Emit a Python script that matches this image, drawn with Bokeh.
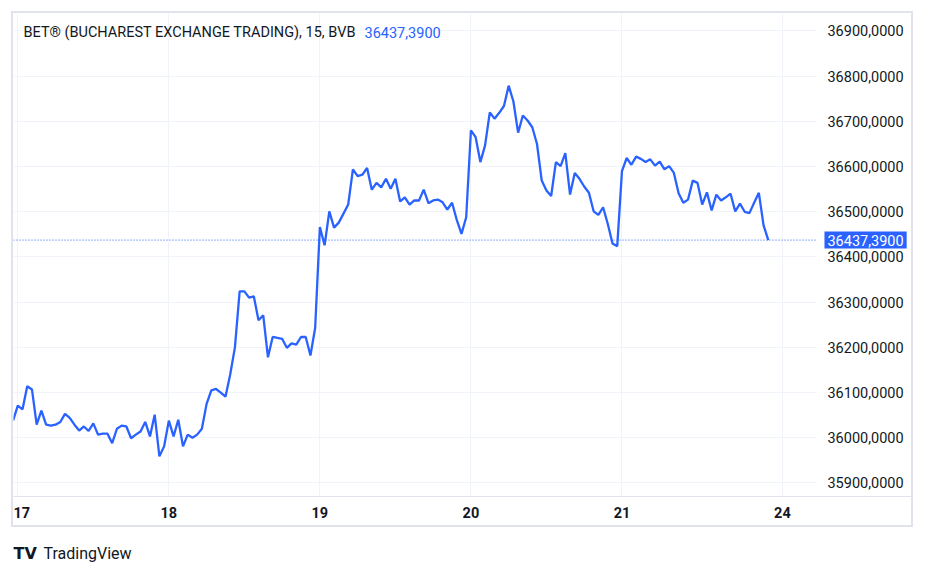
from bokeh.plotting import figure
from bokeh.models import Range1d, FixedTicker, Span, Label, BoxAnnotation
from bokeh.layouts import column
from bokeh.embed import file_html
from bokeh.resources import INLINE
from bokeh.core.properties import value

# ---------------- data ----------------
symbol_title = "BET® (BUCHAREST EXCHANGE TRADING), 15, BVB"
last_price = 36437.39
last_price_label = "36437,3900"

prev_day_last_bar = [36038]
day17 = [36071, 36063, 36114, 36107, 36029, 36060, 36029, 36027, 36029, 36035,
         36053, 36044, 36029, 36016, 36025, 36015, 36032, 36007, 36009, 36009,
         35988, 36020, 36027, 36025, 35999, 36007, 36014, 36035, 36003, 36051,
         35959, 35981]
day18 = [36038, 36003, 36040, 35981, 36007, 36000, 36007, 36020, 36075, 36105,
         36108, 36100, 36091, 36140, 36200, 36324, 36324, 36310, 36313, 36260,
         36271, 36178, 36223, 36221, 36219, 36199, 36209, 36206, 36223, 36223,
         36182, 36243]
day19 = [36466, 36426, 36501, 36465, 36476, 36496, 36516, 36594, 36579, 36582,
         36597, 36549, 36564, 36554, 36573, 36551, 36573, 36523, 36532, 36516,
         36525, 36525, 36549, 36519, 36525, 36527, 36521, 36505, 36520, 36482,
         36451, 36488]
day20 = [36680, 36665, 36610, 36647, 36720, 36706, 36719, 36734, 36779, 36744,
         36675, 36713, 36702, 36687, 36650, 36569, 36547, 36535, 36610, 36601,
         36630, 36538, 36586, 36573, 36556, 36542, 36501, 36493, 36510, 36473,
         36430, 36424]
day21 = [36590, 36619, 36604, 36622, 36617, 36610, 36616, 36602, 36611, 36594,
         36601, 36586, 36541, 36520, 36527, 36569, 36564, 36516, 36543, 36503,
         36538, 36525, 36532, 36540, 36501, 36518, 36500, 36497, 36520, 36542,
         36470, 36437.39]

day_labels = ["17", "18", "19", "20", "21", "24"]
day_tick_bars = [0, 32, 64, 96, 128, 162]

price_ticks = [35900, 36000, 36100, 36200, 36300, 36400, 36500, 36600, 36700, 36800, 36900]
price_tick_labels = ["35900,0000", "36000,0000", "36100,0000", "36200,0000", "36300,0000",
                     "36400,0000", "36500,0000", "36600,0000", "36700,0000", "36800,0000",
                     "36900,0000"]

closes = prev_day_last_bar + day17 + day18 + day19 + day20 + day21
bars = list(range(-1, len(closes) - 1))

# ---------------- styling ----------------
BLUE = "#2962FF"
TEXT = "#131722"
GRID = "#f0f3fa"
BORDER = "#e0e3eb"
FONT = "Roboto"
FS = "14.5px"

X_START, X_END = -0.91, 190.19      # frame spans the whole bordered box
PRICE_SCALE_X = 169.21              # where the price scale begins (bar units)

p = figure(width=902, height=516, output_backend="svg", toolbar_location=None,
           x_range=Range1d(X_START, X_END), y_range=Range1d(35870.1, 36938.7),
           y_axis_location="right",
           min_border_left=0, min_border_top=0, min_border_right=0, min_border_bottom=33)
p.margin = (11, 0, 0, 11)
p.styles = {"border": "2px solid " + BORDER}
p.outline_line_color = None
p.background_fill_color = "white"
p.border_fill_color = "white"

p.xaxis.ticker = FixedTicker(ticks=day_tick_bars)
p.xaxis.major_label_overrides = {t: l for t, l in zip(day_tick_bars, day_labels)}
p.xaxis.axis_line_color = BORDER
p.xaxis.axis_line_width = 1
p.xaxis.major_tick_line_color = None
p.xaxis.minor_tick_line_color = None
p.xaxis.major_tick_out = 0
p.xaxis.major_tick_in = 0
p.xaxis.minor_tick_out = 0
p.xaxis.major_label_standoff = 10
p.xaxis.major_label_text_font = FONT
p.xaxis.major_label_text_font_size = FS
p.xaxis.major_label_text_font_style = "bold"
p.xaxis.major_label_text_color = TEXT

# price scale drawn at a fixed position inside the frame
p.yaxis.fixed_location = PRICE_SCALE_X
p.yaxis.ticker = FixedTicker(ticks=price_ticks)
p.yaxis.major_label_overrides = {t: l for t, l in zip(price_ticks, price_tick_labels)}
p.yaxis.axis_line_color = None
p.yaxis.major_tick_line_color = None
p.yaxis.minor_tick_line_color = None
p.yaxis.major_tick_out = 0
p.yaxis.major_tick_in = 0
p.yaxis.minor_tick_out = 0
p.yaxis.major_label_standoff = 11
p.yaxis.major_label_text_font = FONT
p.yaxis.major_label_text_font_size = FS
p.yaxis.major_label_text_color = TEXT

p.xgrid.ticker = FixedTicker(ticks=day_tick_bars)
p.ygrid.ticker = FixedTicker(ticks=price_ticks)
p.xgrid.grid_line_color = GRID
p.ygrid.grid_line_color = GRID
p.xgrid.grid_line_width = 1
p.ygrid.grid_line_width = 1

p.add_layout(Span(location=last_price, dimension="width", line_color=BLUE,
                  line_dash="1 2", line_width=1, level="underlay"))
# blank the price-scale area behind the scale labels (hides grid / dotted line there)
p.add_layout(BoxAnnotation(left=PRICE_SCALE_X, fill_color="white", fill_alpha=1.0,
                           line_color=None, level="underlay"))

p.line(bars, closes, line_color=BLUE, line_width=2.3)

p.add_layout(Label(x=1.2, y=36896.7, text=symbol_title, text_font=FONT,
                   text_font_size=FS, text_color=TEXT, text_baseline="middle",
                   text_align="left"))
p.add_layout(Label(x=73.45, y=36896.7, text=last_price_label, text_font=FONT,
                   text_font_size=FS, text_color=BLUE, text_baseline="middle",
                   text_align="left"))
p.add_layout(Label(x=PRICE_SCALE_X, y=last_price, text=last_price_label, text_font=FONT,
                   text_font_size=FS, text_color="white", text_baseline="middle",
                   text_align="left", x_offset=8, background_fill_color=BLUE,
                   padding=3, level="overlay"))

# ---------------- logo ----------------
logo = figure(frame_width=300, frame_height=40, output_backend="svg", toolbar_location=None,
              x_range=Range1d(0, 300), y_range=Range1d(0, 40),
              min_border=0, x_axis_type=None, y_axis_type=None)
logo.outline_line_color = None
logo.xgrid.visible = False
logo.ygrid.visible = False
logo.text(x=[13], y=[14], text=["TV"], text_font=value("DejaVu Sans"),
          text_font_size="16px", text_font_style="bold",
          text_color=TEXT, text_baseline="middle")
logo.text(x=[43], y=[14], text=["TradingView"], text_font=value(FONT),
          text_font_size="16px", text_color=TEXT, text_baseline="middle")

layout = column(p, logo)
open("out.html", "w").write(file_html(layout, INLINE))
